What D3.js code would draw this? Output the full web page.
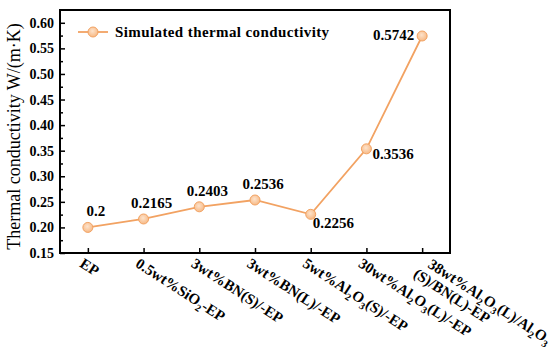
<!DOCTYPE html>
<html>
<head>
<meta charset="utf-8">
<script src="https://cdn.jsdelivr.net/npm/d3@7"></script>
<style>
  body { margin: 0; background: #fff; }
  svg text { font-family: "Liberation Serif", "Times New Roman", serif; }
</style>
</head>
<body>
<div id="chart"></div>
<script>
// categories (each entry is a list of lines, each line a list of [text, isSubscript])
var categories = [
  [[["EP", 0]]],
  [[["0.5wt%SiO", 0], ["2", 1], ["-EP", 0]]],
  [[["3wt%BN(S)/-EP", 0]]],
  [[["3wt%BN(L)/-EP", 0]]],
  [[["5wt%Al", 0], ["2", 1], ["O", 0], ["3", 1], ["(S)/-EP", 0]]],
  [[["30wt%Al", 0], ["2", 1], ["O", 0], ["3", 1], ["(L)/-EP", 0]]],
  [[["38wt%Al", 0], ["2", 1], ["O", 0], ["3", 1], ["(L)/Al", 0], ["2", 1], ["O", 0], ["3", 1]],
   [["(S)/BN(L)-EP", 0]]]
];
var conductivity = [0.2, 0.2165, 0.2403, 0.2536, 0.2256, 0.3536, 0.5742];
var valueLabels = ["0.2", "0.2165", "0.2403", "0.2536", "0.2256", "0.3536", "0.5742"];
var labelSide = ["above", "above", "above", "above", "belowRight", "right", "left"];
var yTicks = [0.15, 0.20, 0.25, 0.30, 0.35, 0.40, 0.45, 0.50, 0.55, 0.60];
var seriesName = "Simulated thermal conductivity";
var yTitle = "Thermal conductivity W/(m\u00b7K)";

var w = 550, h = 349;
var padL = 60, padR = 450, padT = 10, padB = 253;
var lineColor = "#f2a262", fillColor = "#f7b985";

var svg = d3.select("#chart").append("svg")
  .attr("width", w).attr("height", h);

// shaded marker like the original's ball symbols
var grad = svg.append("defs").append("radialGradient")
  .attr("id", "ball").attr("cx", "45%").attr("cy", "40%").attr("r", "60%");
grad.append("stop").attr("offset", "0%").attr("stop-color", "#fde3cc");
grad.append("stop").attr("offset", "100%").attr("stop-color", fillColor);

var xscale = d3.scalePoint()
  .domain(d3.range(categories.length))
  .range([padL, padR])
  .padding(0.5);

var yscale = d3.scaleLinear()
  .domain([0.15, 0.625])
  .range([padB, padT]);

// frame
svg.append("rect")
  .attr("x", padL).attr("y", padT)
  .attr("width", padR - padL).attr("height", padB - padT)
  .attr("fill", "none").attr("stroke", "#000").attr("stroke-width", 2);

// y axis, ticks inside
var minor = d3.range(0.175, 0.625, 0.05);
svg.append("g")
  .attr("transform", "translate(" + padL + ",0)")
  .call(d3.axisRight(yscale).tickValues(minor).tickSize(3).tickFormat(""))
  .call(g => g.select(".domain").remove())
  .call(g => g.selectAll("line").attr("stroke-width", 1.5));
var yaxis = svg.append("g")
  .attr("transform", "translate(" + padL + ",0)")
  .call(d3.axisLeft(yscale).tickValues(yTicks).tickSize(-5).tickPadding(6).tickFormat(d3.format(".2f")));
yaxis.select(".domain").remove();
yaxis.selectAll("line").attr("stroke-width", 1.5);
yaxis.selectAll("text")
  .attr("font-size", 14).attr("font-weight", "bold").attr("fill", "#000")
  .attr("font-family", "Liberation Serif, serif");

// x axis ticks inside
var xaxis = svg.append("g")
  .attr("transform", "translate(0," + padB + ")")
  .call(d3.axisTop(xscale).tickSize(5).tickFormat(""));
xaxis.select(".domain").remove();
xaxis.selectAll("line").attr("stroke-width", 1.5);

// rotated category labels
var angle = 33;
categories.forEach(function(lines, i) {
  var multi = lines.length > 1;
  var g = svg.append("g")
    .attr("transform", "translate(" + (xscale(i) - 9) + "," + (padB + 13) + ") rotate(" + angle + ")");
  lines.forEach(function(parts, li) {
    var t = g.append("text")
      .attr("x", multi ? (li == 0 ? 12 : 5) : 0)
      .attr("y", multi ? (li == 0 ? -7 : 9) : 0)
      .attr("font-size", 15).attr("font-weight", "bold");
    var prevSub = false;
    parts.forEach(function(p) {
      var ts = t.append("tspan").text(p[0]);
      if (p[1]) { ts.attr("font-size", 10).attr("dy", prevSub ? 0 : 4); prevSub = true; }
      else { ts.attr("dy", prevSub ? -4 : 0); prevSub = false; }
    });
  });
});

// line
var line = d3.line()
  .x((d, i) => xscale(i))
  .y(d => yscale(d));
svg.append("path")
  .datum(conductivity)
  .attr("d", line)
  .attr("fill", "none").attr("stroke", lineColor).attr("stroke-width", 1.8);

svg.selectAll("circle.pt")
  .data(conductivity)
  .enter()
  .append("circle")
    .attr("class", "pt")
    .attr("cx", (d, i) => xscale(i))
    .attr("cy", d => yscale(d))
    .attr("r", 5)
    .attr("fill", "url(#ball)").attr("stroke", lineColor).attr("stroke-width", 1);

// value labels
var offsets = {
  above: { dx: 8, dy: -11, anchor: "middle" },
  belowRight: { dx: 2, dy: 14, anchor: "start" },
  right: { dx: 6, dy: 10, anchor: "start" },
  left: { dx: -8, dy: 4, anchor: "end" }
};
svg.selectAll("text.val")
  .data(conductivity)
  .enter()
  .append("text")
    .attr("class", "val")
    .attr("x", (d, i) => xscale(i) + offsets[labelSide[i]].dx)
    .attr("y", (d, i) => yscale(d) + offsets[labelSide[i]].dy)
    .attr("text-anchor", (d, i) => offsets[labelSide[i]].anchor)
    .attr("font-size", 15).attr("font-weight", "bold")
    .text((d, i) => valueLabels[i]);

// legend
var legend = svg.append("g").attr("transform", "translate(78,32)");
legend.append("line")
  .attr("x1", 0).attr("x2", 30).attr("y1", 0).attr("y2", 0)
  .attr("stroke", lineColor).attr("stroke-width", 1.8);
legend.append("circle")
  .attr("cx", 15).attr("cy", 0).attr("r", 5)
  .attr("fill", "url(#ball)").attr("stroke", lineColor);
legend.append("text")
  .attr("x", 37).attr("y", 5)
  .attr("font-size", 15).attr("font-weight", "bold")
  .attr("letter-spacing", 0.4)
  .text(seriesName);

// y title
svg.append("text")
  .attr("transform", "translate(20," + ((padT + padB) / 2 + 5) + ") rotate(-90)")
  .attr("text-anchor", "middle")
  .attr("font-size", 18)
  .text(yTitle);
</script>
</body>
</html>
